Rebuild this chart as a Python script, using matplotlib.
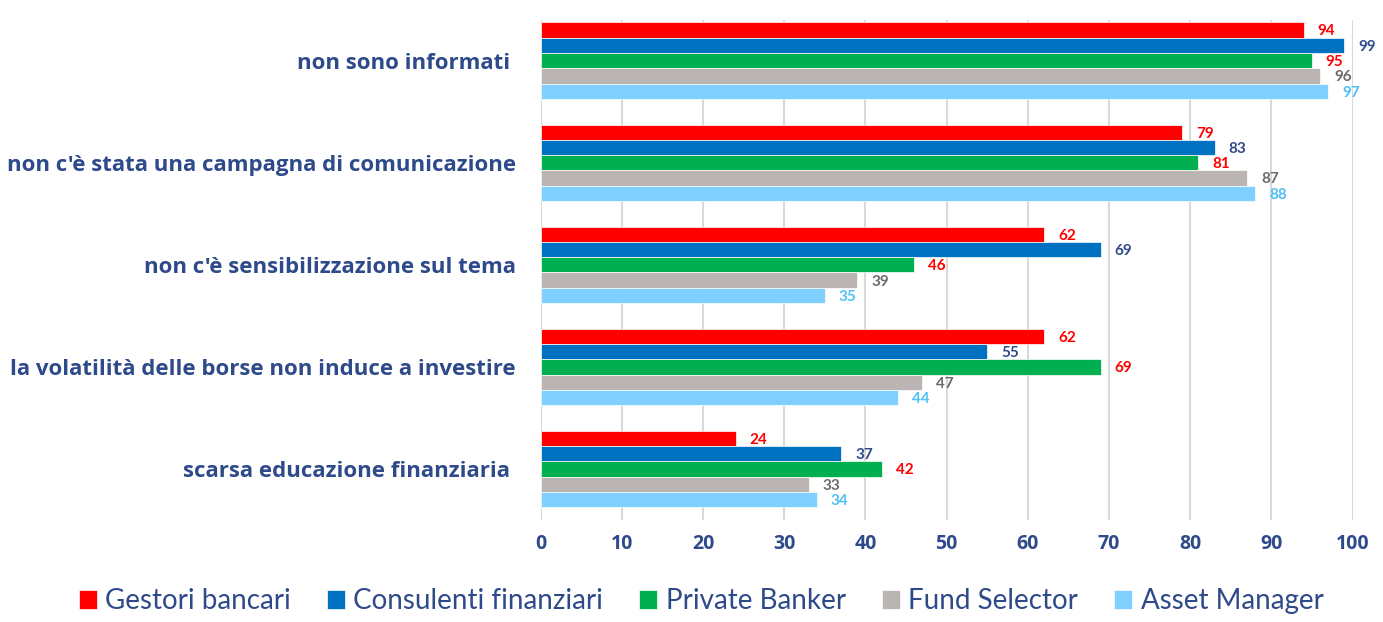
import matplotlib
matplotlib.use("Agg")
import matplotlib.pyplot as plt
import numpy as np

categories = [
    "non sono informati ",
    "non c'è stata una campagna di comunicazione",
    "non c'è sensibilizzazione sul tema",
    "la volatilità delle borse non induce a investire",
    "scarsa educazione finanziaria ",
]
series = ["Gestori bancari", "Consulenti finanziari", "Private Banker",
          "Fund Selector", "Asset Manager"]
gestori = [94, 79, 62, 62, 24]
consulenti = [99, 83, 69, 55, 37]
private = [95, 81, 46, 69, 42]
fund = [96, 87, 39, 47, 33]
asset = [97, 88, 35, 44, 34]
values = [gestori, consulenti, private, fund, asset]

BAR = ["#FF0000", "#0070C0", "#00B050", "#BAB5B2", "#80D0FF"]
LBL = ["#FF0000", "#2F4A8A", "#FF0000", "#6B6B6B", "#4FC0F5"]
NAVY = "#2F4A8A"
plt.rcParams["font.family"] = ["Lato", "DejaVu Sans"]
WIDE = ["Open Sans", "DejaVu Sans"]

fig = plt.figure(figsize=(13.83, 6.22), dpi=100)
ax = fig.add_axes([0.391, 0.164, 0.587, 0.804])

h = 0.15
y0 = np.arange(len(categories))
for i, (vals, c) in enumerate(zip(values, BAR)):
    ys = y0 - 2 * h + i * h
    ax.barh(ys, vals, height=h, color=c, edgecolor="white", linewidth=0.5,
            label=series[i], zorder=3)
    for y, v in zip(ys, vals):
        ax.annotate(str(v), (v, y), xytext=(10, -1), textcoords="offset points",
                    ha="left", va="center", fontsize=11, fontweight="bold",
                    color=LBL[i])

ax.set_ylim(len(categories) - 0.5, -0.4)
ax.set_xlim(0, 100)
ax.set_xticks(range(0, 101, 10))
ax.set_yticks(y0)
ax.set_yticklabels(categories, fontsize=16, fontweight="bold", color=NAVY,
                   family=WIDE)
ax.tick_params(axis="y", length=0, pad=18)
ax.tick_params(axis="x", length=0, pad=10, labelsize=14, labelcolor=NAVY)
for t in ax.get_xticklabels():
    t.set_fontweight("bold")
    t.set_family(WIDE)
ax.grid(axis="x", color="#D9D9D9", lw=1.5, zorder=0)
for s in ax.spines.values():
    s.set_visible(False)

fig.legend(loc="center", bbox_to_anchor=(0.507, 0.033), ncol=5, frameon=False,
           fontsize=20, labelcolor=NAVY, handlelength=0.65, handleheight=0.65,
           handletextpad=0.3, columnspacing=1.3)

fig.savefig("out.png", dpi=100)
